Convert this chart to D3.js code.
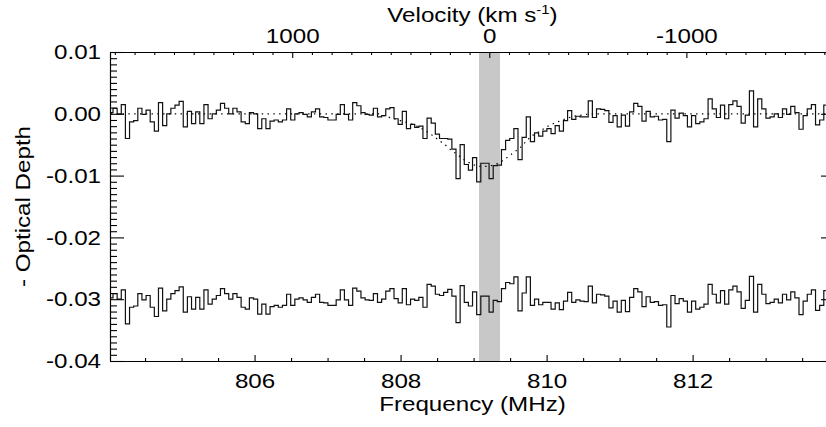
<!DOCTYPE html>
<html>
<head>
<meta charset="utf-8">
<script src="https://cdn.jsdelivr.net/npm/d3@7"></script>
<style>
  body { margin: 0; background: #fff; }
  svg { display: block; }
</style>
</head>
<body>
<div id="chart"></div>
<script>
// optical depth per channel (174 channels)
const tau = [
  0.0002, 0.0009, 0.0000, 0.0015, -0.0040, -0.0013, -0.0011, 0.0009, -0.0001, 0.0006,
  -0.0013, -0.0028, 0.0018, -0.0019, 0.0000, 0.0009, 0.0014, 0.0020, -0.0021, 0.0004,
  -0.0016, 0.0003, -0.0016, 0.0015, -0.0008, 0.0000, 0.0006, 0.0017, 0.0009, 0.0000,
  0.0009, 0.0003, -0.0013, -0.0016, 0.0002, 0.0000, -0.0024, -0.0008, -0.0024, -0.0012,
  -0.0010, -0.0013, -0.0010, 0.0008, -0.0010, 0.0000, 0.0002, -0.0001, -0.0005, 0.0003,
  0.0008, -0.0005, -0.0006, -0.0010, -0.0010, -0.0001, 0.0015, -0.0001, -0.0010, 0.0018,
  0.0013, 0.0002, -0.0001, -0.0002, 0.0009, -0.0005, -0.0003, 0.0008, 0.0010, -0.0008,
  -0.0017, 0.0004, -0.0024, -0.0017, -0.0022, -0.0020, -0.0040, -0.0007, -0.0015, -0.0033,
  -0.0040, -0.0040, -0.0041, -0.0057, -0.0105, -0.0050, -0.0082, -0.0091, -0.0071, -0.0110,
  -0.0080, -0.0080, -0.0105, -0.0084, -0.0083, -0.0058, -0.0043, -0.0040, -0.0024, -0.0074,
  -0.0038, -0.0005, -0.0045, -0.0031, -0.0036, -0.0028, -0.0024, -0.0032, -0.0019, -0.0028,
  -0.0011, 0.0005, -0.0009, -0.0004, -0.0005, -0.0005, 0.0021, -0.0006, 0.0008, 0.0007,
  0.0005, -0.0014, -0.0003, -0.0021, -0.0002, -0.0020, 0.0003, 0.0017, 0.0012, -0.0012,
  0.0004, -0.0005, -0.0004, -0.0010, -0.0009, -0.0045, 0.0006, -0.0007, 0.0001, -0.0003,
  -0.0021, -0.0003, -0.0016, -0.0013, -0.0008, 0.0024, 0.0008, -0.0006, 0.0014, -0.0008,
  0.0015, 0.0021, 0.0012, -0.0015, -0.0002, 0.0037, -0.0021, 0.0024, 0.0008, -0.0007,
  -0.0005, 0.0000, -0.0006, 0.0008, -0.0001, 0.0012, 0.0002, -0.0025, -0.0003, 0.0008,
  0.0015, -0.0018, -0.0010, 0.0014
]

// fitted profile (dotted), channels 66..115, zero elsewhere
const fitStart = 66
const fitDip = [
  -0.0003, -0.0005, -0.0007, -0.0009, -0.0011, -0.0013, -0.0015, -0.0017, -0.0020, -0.0023,
  -0.0027, -0.0031, -0.0036, -0.0041, -0.0046, -0.0051, -0.0057, -0.0062, -0.0067, -0.0072,
  -0.0077, -0.0080, -0.0083, -0.0085, -0.0085, -0.0085, -0.0084, -0.0082, -0.0079, -0.0075,
  -0.0070, -0.0065, -0.0060, -0.0055, -0.0048, -0.0041, -0.0035, -0.0031, -0.0027, -0.0023,
  -0.0019, -0.0016, -0.0013, -0.0011, -0.0008, -0.0006, -0.0004, -0.0003, -0.0002, -0.0001
]

const chanStart = 804.033   // MHz, first channel centre
const chanWidth = 0.0566    // MHz
const residOffset = -0.03
const band = [809.074, 809.362]   // shaded channel range

const yMajor = [0.01, 0, -0.01, -0.02, -0.03, -0.04]
const yTickLabels = ["0.01", "0.00", "-0.01", "-0.02", "-0.03", "-0.04"]
const xMajor = [806, 808, 810, 812]
const xTickLabels = ["806", "808", "810", "812"]
const vMajor = [1000, 0, -1000]
const vTickLabels = ["1000", "0", "-1000"]

const freqDomain = [804.02, 813.95]
const f0 = 809.215
const cLight = 299792.458
const vel = f => cLight * (f0 - f) / f0

const width = 826, height = 427
const pL = 110, pR = 835, pT = 52, pB = 361
const font = '"Liberation Sans", Arial, Helvetica, sans-serif'
const fontSize = 21
const stretch = 1.15   // lettering in the reference is wider than it is tall

const x = d3.scaleLinear().domain(freqDomain).range([pL, pR])
const y = d3.scaleLinear().domain([-0.04, 0.01]).range([pB, pT])
const xv = d3.scaleLinear().domain(freqDomain.map(vel)).range([pL, pR])

const freq = tau.map((_, i) => chanStart + i * chanWidth)
const fit = tau.map((_, i) => fitDip[i - fitStart] ?? 0)
const spec = tau.map((t, i) => ({ f: freq[i], t }))
const model = fit.map((t, i) => ({ f: freq[i], t }))
const resid = tau.map((t, i) => ({ f: freq[i], t: t - fit[i] + residOffset }))

const svg = d3.select('#chart').append('svg')
  .attr('width', width)
  .attr('height', height)

svg.append('defs').append('clipPath').attr('id', 'plot')
  .append('rect')
  .attr('x', pL).attr('y', pT)
  .attr('width', pR - pL).attr('height', pB - pT)

const plot = svg.append('g').attr('clip-path', 'url(#plot)')

plot.append('rect')
  .attr('x', x(band[0]))
  .attr('width', x(band[1]) - x(band[0]))
  .attr('y', pT)
  .attr('height', pB - pT)
  .attr('fill', '#c8c8c8')

const step = d3.line().x(d => x(d.f)).y(d => y(d.t)).curve(d3.curveStep)
const smooth = d3.line().x(d => x(d.f)).y(d => y(d.t))

plot.append('path')
  .attr('d', smooth(model))
  .attr('fill', 'none')
  .attr('stroke', '#000')
  .attr('stroke-width', 1.2)
  .attr('stroke-dasharray', '1.4 4.4')

plot.selectAll('path.trace')
  .data([spec, resid])
  .enter().append('path')
  .attr('class', 'trace')
  .attr('d', step)
  .attr('fill', 'none')
  .attr('stroke', '#111')
  .attr('stroke-width', 1.2)

const yMinor = d3.range(-40, 11).map(k => k / 1000).filter(v => !yMajor.some(m => Math.abs(m - v) < 1e-9))
const xMinor = d3.range(804.5, 814, 0.5).filter(v => v % 2 !== 0)
const vMinor = d3.range(-1700, 2000, 100).filter(v => v % 1000 !== 0)

function styleAxis(g) {
  g.attr('font-family', font).attr('font-size', fontSize)
  g.selectAll('path, line').attr('stroke', '#000').attr('stroke-width', 1.1)
  g.selectAll('text').attr('fill', '#000')
}

// left
svg.append('g').attr('transform', `translate(${pL},0)`)
  .call(d3.axisLeft(y).tickValues(yMajor).tickSize(-14).tickSizeOuter(0).tickPadding(9)
    .tickFormat((d, i) => yTickLabels[i]))
  .call(styleAxis)
svg.append('g').attr('transform', `translate(${pL},0)`)
  .call(d3.axisLeft(y).tickValues(yMinor).tickSize(-7).tickSizeOuter(0).tickFormat(''))
  .call(styleAxis)

// right
svg.append('g').attr('transform', `translate(${pR},0)`)
  .call(d3.axisRight(y).tickValues(yMajor).tickSize(-14).tickSizeOuter(0).tickFormat(''))
  .call(styleAxis)
svg.append('g').attr('transform', `translate(${pR},0)`)
  .call(d3.axisRight(y).tickValues(yMinor).tickSize(-7).tickSizeOuter(0).tickFormat(''))
  .call(styleAxis)

// bottom
svg.append('g').attr('transform', `translate(0,${pB})`)
  .call(d3.axisBottom(x).tickValues(xMajor).tickSize(-6).tickSizeOuter(0).tickPadding(12)
    .tickFormat((d, i) => xTickLabels[i]))
  .call(styleAxis)
svg.append('g').attr('transform', `translate(0,${pB})`)
  .call(d3.axisBottom(x).tickValues(xMinor).tickSize(-3).tickSizeOuter(0).tickFormat(''))
  .call(styleAxis)

// top (velocity)
svg.append('g').attr('transform', `translate(0,${pT})`)
  .call(d3.axisTop(xv).tickValues(vMajor).tickSize(-6).tickSizeOuter(0).tickPadding(9)
    .tickFormat((d, i) => vTickLabels[i]))
  .call(styleAxis)
svg.append('g').attr('transform', `translate(0,${pT})`)
  .call(d3.axisTop(xv).tickValues(vMinor).tickSize(-3).tickSizeOuter(0).tickFormat(''))
  .call(styleAxis)

// titles
const mid = (pL + pR) / 2
svg.append('text')
  .attr('x', mid).attr('y', 411)
  .attr('text-anchor', 'middle')
  .attr('font-family', font).attr('font-size', fontSize)
  .text('Frequency (MHz)')

const vt = svg.append('text')
  .attr('x', mid).attr('y', 22)
  .attr('text-anchor', 'middle')
  .attr('font-family', font).attr('font-size', fontSize)
vt.append('tspan').text('Velocity (km s')
vt.append('tspan').attr('font-size', 13).attr('dy', -8).text('-1')
vt.append('tspan').attr('dy', 8).text(')')

svg.append('text')
  .attr('transform', `translate(30,${(pT + pB) / 2}) rotate(-90)`)
  .attr('text-anchor', 'middle')
  .attr('font-family', font).attr('font-size', fontSize)
  .text('- Optical Depth')

// widen every label to the reference proportions
svg.selectAll('text').each(function () {
  const w = this.getComputedTextLength()
  if (w > 0) {
    d3.select(this)
      .attr('textLength', w * stretch)
      .attr('lengthAdjust', 'spacingAndGlyphs')
  }
})
</script>
</body>
</html>
